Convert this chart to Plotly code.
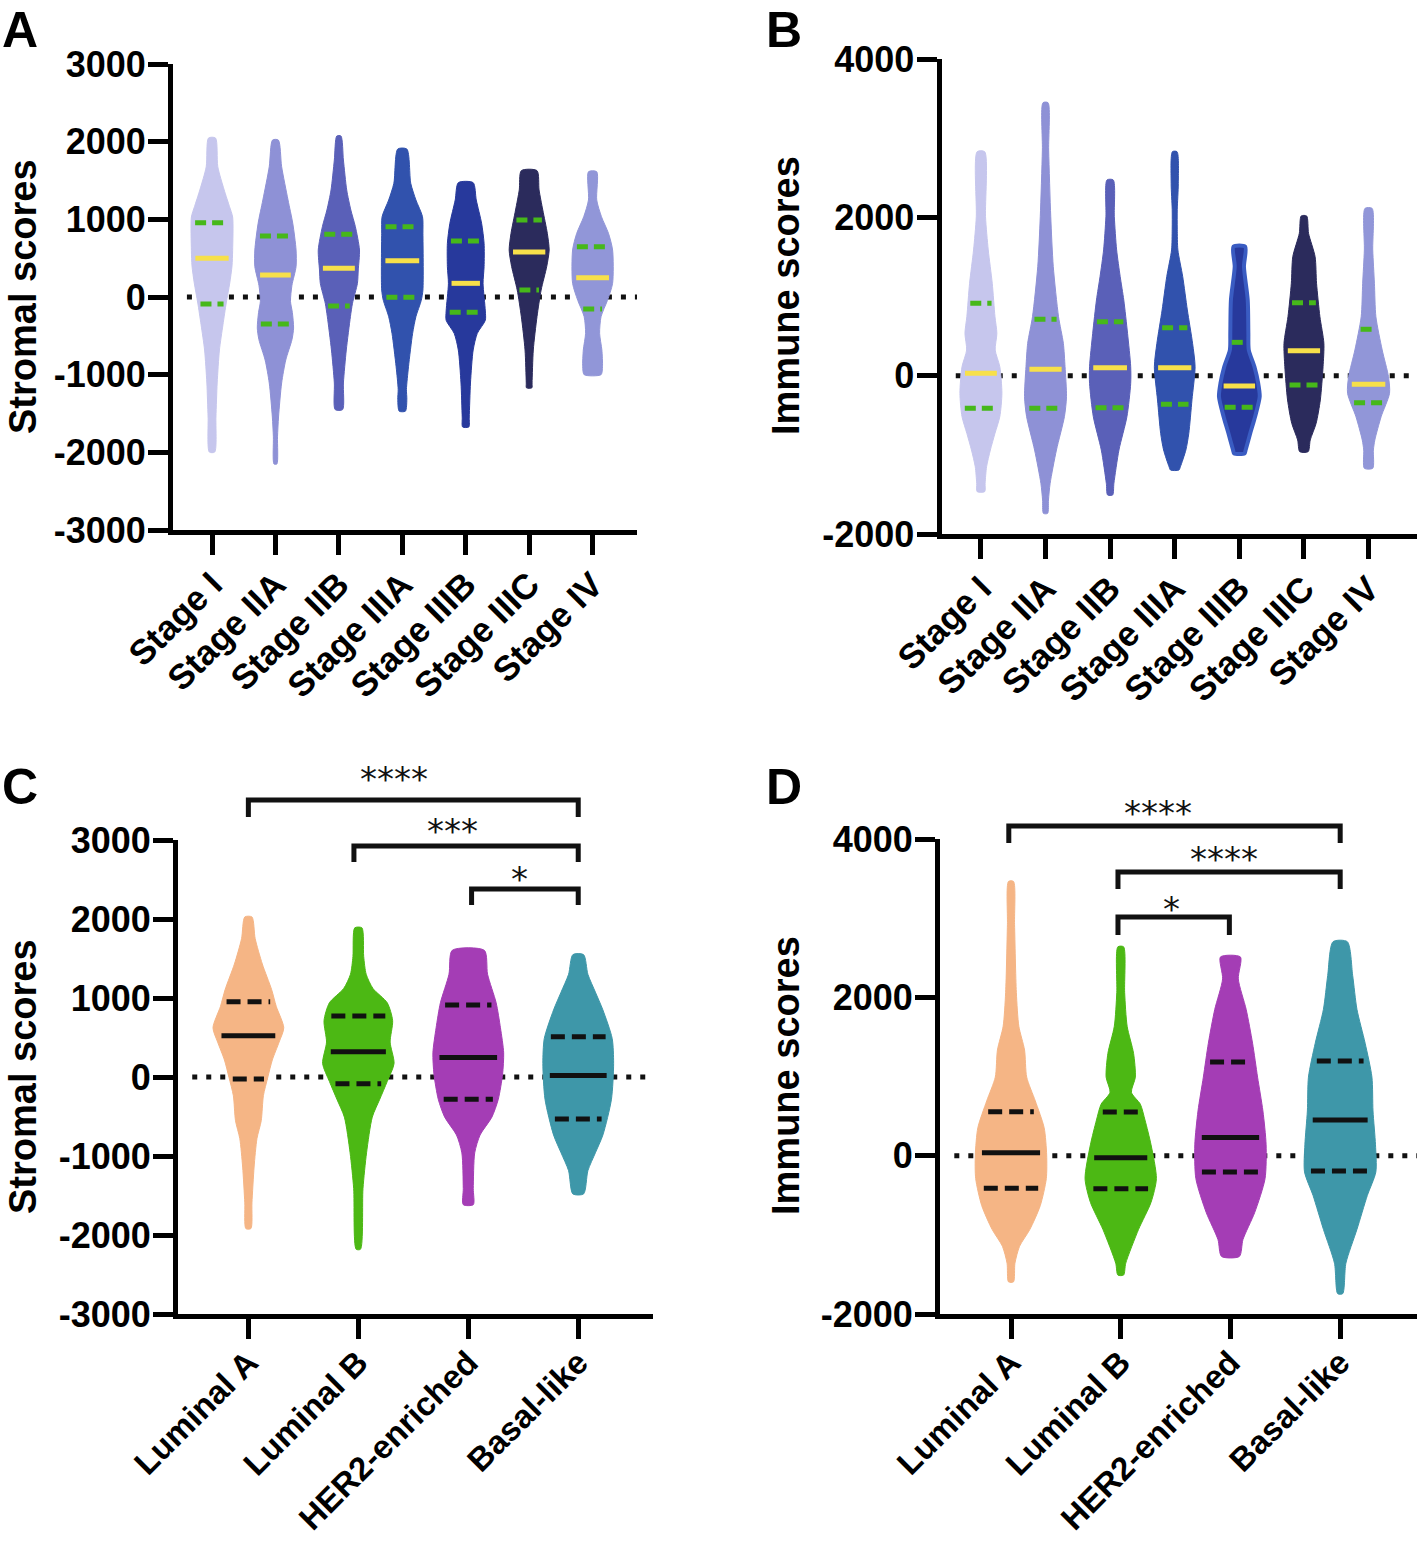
import numpy as np
import plotly.graph_objects as go

W, H = 1417, 1549
FONT = "Liberation Sans, Arial, sans-serif"

# ---------------- data ----------------
stages = ["Stage I", "Stage IIA", "Stage IIB", "Stage IIIA", "Stage IIIB", "Stage IIIC", "Stage IV"]
subtypes = ["Luminal A", "Luminal B", "HER2-enriched", "Basal-like"]

stage_colors = ["#c6c6ed", "#8e91d6", "#5a60b8", "#3152ad", "#27399c", "#2b2b5c", "#9196d8"]
subtype_colors = ["#f5b585", "#4cb814", "#a43db5", "#3e97a9"]

# Panel A - stromal scores by stage: levels (score) and relative violin width
A_levels = [
    [-1996, -1545, -1107, -682, -357, -77, 180, 400, 600, 1030, 1163, 1378, 1678, 2047],
    [-2150, -1800, -1545, -1107, -811, -550, -400, -200, -56, 150, 391, 605, 948, 1249, 1678, 2021],
    [-1450, -1107, -682, -253, -81, 176, 348, 605, 905, 1120, 1378, 1764, 2073],
    [-1470, -1320, -1190, -897, -468, -253, -43, 90, 820, 1034, 1249, 1463, 1905],
    [-1673, -1545, -1107, -682, -468, -300, -180, 176, 391, 691, 948, 1249, 1472],
    [-1170, -1107, -682, -253, 90, 391, 605, 820, 1120, 1378, 1627],
    [-1000, -897, -682, -468, -253, -43, 176, 605, 820, 1034, 1249, 1613],
]
A_dens = [
    [0.13, 0.19, 0.25, 0.36, 0.53, 0.69, 0.86, 0.97, 1.0, 1.0, 0.85, 0.59, 0.28, 0.17],
    [0.07, 0.10, 0.15, 0.30, 0.50, 0.80, 0.88, 0.82, 0.73, 0.80, 1.0, 1.0, 0.84, 0.61, 0.30, 0.14],
    [0.18, 0.22, 0.36, 0.56, 0.66, 0.90, 0.94, 1.0, 0.80, 0.58, 0.38, 0.22, 0.10],
    [0.15, 0.22, 0.20, 0.30, 0.50, 0.66, 0.92, 1.0, 1.0, 0.98, 0.66, 0.41, 0.22],
    [0.15, 0.17, 0.23, 0.36, 0.56, 0.95, 0.95, 0.84, 0.89, 0.89, 0.77, 0.51, 0.36],
    [0.13, 0.14, 0.20, 0.38, 0.58, 0.85, 0.97, 0.88, 0.66, 0.48, 0.38],
    [0.41, 0.48, 0.45, 0.34, 0.41, 0.72, 0.97, 0.97, 0.77, 0.43, 0.20, 0.20],
]
A_median = [498, 283, 369, 467, 176, 579, 249]
A_q1 = [-90, -348, -116, -4, -197, 90, -154]
A_q3 = [957, 785, 807, 905, 721, 991, 648]

# Panel B - immune scores by stage
B_levels = [
    [-1465, -1360, -1150, -939, -728, -518, -223, 113, 324, 534, 745, 1167, 1588, 2008, 2829],
    [-1739, -1570, -1360, -939, -518, -265, 113, 408, 745, 1377, 2008, 2850, 3448],
    [-1507, -1360, -939, -518, -98, 113, 534, 956, 1251, 1588, 2008, 2472],
    [-1192, -1150, -939, -728, -307, 113, 408, 830, 1251, 1588, 1850, 2100, 2429, 2829],
    [-981, -939, -728, -518, -265, -98, 113, 324, 534, 956, 1377, 1630],
    [-960, -812, -602, -307, 113, 408, 745, 1167, 1504, 1798, 2017],
    [-1170, -939, -812, -518, -223, -13, 324, 745, 1167, 1588, 2113],
]
B_dens = [
    [0.18, 0.20, 0.27, 0.45, 0.67, 0.90, 1.0, 0.90, 0.68, 0.76, 0.67, 0.54, 0.35, 0.22, 0.18],
    [0.10, 0.14, 0.22, 0.52, 0.90, 1.0, 0.93, 0.85, 0.62, 0.37, 0.25, 0.15, 0.12],
    [0.12, 0.18, 0.42, 0.80, 0.98, 0.98, 0.83, 0.65, 0.48, 0.31, 0.20, 0.15],
    [0.20, 0.27, 0.53, 0.67, 0.82, 0.97, 0.85, 0.60, 0.38, 0.15, 0.12, 0.12, 0.17, 0.11],
    [0.25, 0.30, 0.52, 0.75, 0.97, 0.90, 0.72, 0.45, 0.43, 0.40, 0.22, 0.28],
    [0.20, 0.30, 0.58, 0.78, 0.91, 0.95, 0.76, 0.60, 0.53, 0.22, 0.13],
    [0.20, 0.23, 0.30, 0.60, 1.0, 0.95, 0.65, 0.35, 0.28, 0.20, 0.17],
]
B_median = [30, 81, 101, 101, -130, 316, -109]
B_q1 = [-412, -412, -404, -362, -400, -117, -341]
B_q3 = [914, 712, 682, 606, 421, 922, 586]

# Panel C - stromal scores by PAM50 subtype
C_levels = [
    [-1919, -1593, -1140, -779, -553, -236, -10, 216, 442, 623, 894, 1107, 1430, 1752, 2026],
    [-2180, -1412, -960, -508, -281, -55, 171, 442, 713, 939, 1120, 1300, 1526, 1888],
    [-1616, -1412, -960, -734, -508, -281, 35, 306, 623, 939, 1300, 1603],
    [-1480, -1186, -960, -734, -281, 171, 487, 849, 1074, 1300, 1549],
]
C_dens = [
    [0.07, 0.10, 0.16, 0.24, 0.36, 0.42, 0.54, 0.67, 0.86, 0.99, 0.78, 0.65, 0.39, 0.19, 0.10],
    [0.06, 0.13, 0.23, 0.39, 0.60, 0.81, 1.0, 0.89, 0.96, 0.81, 0.41, 0.22, 0.15, 0.10],
    [0.14, 0.14, 0.18, 0.33, 0.66, 0.84, 0.96, 0.99, 0.90, 0.78, 0.54, 0.45],
    [0.15, 0.27, 0.48, 0.69, 0.93, 0.99, 0.95, 0.69, 0.48, 0.27, 0.15],
]
C_median = [523, 319, 247, 20]
C_q1 = [-24, -87, -282, -532]
C_q3 = [952, 772, 911, 509]

# Panel D - immune scores by PAM50 subtype
D_levels = [
    [-1594, -1359, -1145, -931, -632, -290, 9, 351, 693, 992, 1334, 1634, 2062, 2917, 3464],
    [-1508, -1359, -931, -589, -290, 137, 450, 650, 800, 992, 1292, 1634, 2062, 2638],
    [-1273, -1060, -717, -290, 137, 565, 992, 1420, 1848, 2233, 2510],
    [-1743, -1359, -931, -504, -205, 137, 565, 992, 1420, 1848, 2276, 2703],
]
D_dens = [
    [0.07, 0.11, 0.24, 0.53, 0.82, 0.99, 1.0, 0.93, 0.68, 0.44, 0.38, 0.22, 0.15, 0.10, 0.07],
    [0.08, 0.14, 0.50, 0.85, 1.0, 0.85, 0.68, 0.55, 0.30, 0.41, 0.36, 0.18, 0.11, 0.08],
    [0.25, 0.35, 0.68, 0.97, 1.0, 0.91, 0.76, 0.62, 0.44, 0.22, 0.28],
    [0.07, 0.16, 0.47, 0.76, 1.0, 0.99, 0.92, 0.89, 0.70, 0.47, 0.35, 0.20],
]
D_median = [38, -27, 230, 449]
D_q1 = [-411, -419, -206, -193]
D_q3 = [556, 552, 1184, 1196]

# significance brackets: (from group, to group, bar level, leg end level, label x, label level, label)
C_brackets = [(0, 3, 3507, 3292, 1.32, 3773, "****"),
              (0.96, 3, 2924, 2722, 1.86, 3114, "***"),
              (2.03, 3, 2380, 2178, 2.47, 2507, "*")]
D_brackets = [(-0.02, 3, 4165, 3950, 1.34, 4330, "****"),
              (0.975, 3, 3583, 3369, 1.94, 3748, "****"),
              (0.975, 1.99, 3014, 2787, 1.46, 3116, "*")]

stromal_ticks = [-3000, -2000, -1000, 0, 1000, 2000, 3000]
immune_ticks = [-2000, 0, 2000, 4000]

# ---------------- layout geometry (pixels) ----------------
def px_x(p):
    return p / W

def px_y(p):
    return 1 - p / H

panels = {
    "A": dict(ax="x", ay="y", xdom=(173, 637), ydom=(530, 64), xr=(-0.615, 6.70), yr=(-3000, 3000)),
    "B": dict(ax="x2", ay="y2", xdom=(941.5, 1417), ydom=(534, 59), xr=(-0.61, 6.75), yr=(-2000, 4000)),
    "C": dict(ax="x3", ay="y3", xdom=(178, 653), ydom=(1314, 840), xr=(-0.64, 3.68), yr=(-3000, 3000)),
    "D": dict(ax="x4", ay="y4", xdom=(940, 1417), ydom=(1314, 839), xr=(-0.647, 3.70), yr=(-2000, 4000)),
}
HALF_W = 0.325

fig = go.Figure()


def add_violins(pan, levels, dens, colors, med, q1, q3, med_color, q_color, q_dash, outlines=None):
    p = panels[pan]
    for i, (lv, dn) in enumerate(zip(levels, dens)):
        lv = np.asarray(lv, float)
        dn = np.asarray(dn, float) * HALF_W
        xs = np.concatenate([i + dn, (i - dn)[::-1], [i + dn[0]]])
        ys = np.concatenate([lv, lv[::-1], [lv[0]]])
        lc = colors[i] if outlines is None or outlines[i] is None else outlines[i]
        lw = 1 if outlines is None or outlines[i] is None else 4
        fig.add_trace(go.Scatter(x=xs, y=ys, mode="lines", fill="toself", fillcolor=colors[i],
                                 line=dict(color=lc, width=lw, shape="spline", smoothing=0.7),
                                 xaxis=p["ax"], yaxis=p["ay"], hoverinfo="skip", showlegend=False))
        for val, col, dash in [(q1[i], q_color, q_dash), (q3[i], q_color, q_dash), (med[i], med_color, "solid")]:
            w = np.interp(val, lv, dn) * 0.82
            fig.add_trace(go.Scatter(x=[i - w, i + w], y=[val, val], mode="lines",
                                     line=dict(color=col, width=5, dash=dash),
                                     xaxis=p["ax"], yaxis=p["ay"], hoverinfo="skip", showlegend=False))


add_violins("A", A_levels, A_dens, stage_colors, A_median, A_q1, A_q3, "#f7e04a", "#46b81a", "11px,6px")
add_violins("B", B_levels, B_dens, stage_colors, B_median, B_q1, B_q3, "#f7e04a", "#46b81a", "11px,6px",
            outlines=[None, None, None, None, "#3a5cc2", None, None])
add_violins("C", C_levels, C_dens, subtype_colors, C_median, C_q1, C_q3, "#111111", "#111111", "14px,7px")
add_violins("D", D_levels, D_dens, subtype_colors, D_median, D_q1, D_q3, "#111111", "#111111", "14px,7px")

layout = dict(width=W, height=H, margin=dict(l=0, r=0, t=0, b=0, autoexpand=False),
              template="none",
              paper_bgcolor="white", plot_bgcolor="white", showlegend=False)

ytickfont = dict(family=FONT, size=36, color="black", weight="bold")
shapes = []
annotations = []

for name, p in panels.items():
    xk = "xaxis" + p["ax"][1:]
    yk = "yaxis" + p["ay"][1:]
    cats = stages if name in "AB" else subtypes
    yt = stromal_ticks if name in "AC" else immune_ticks
    xtickfont = dict(family=FONT, size=35 if name in "AB" else 33, color="black", weight="bold")
    common = dict(showline=True, linecolor="black", linewidth=5, ticks="outside", ticklen=20,
                  tickwidth=5, tickcolor="black", showgrid=False, zeroline=False,
                  fixedrange=True, automargin=False)
    layout[xk] = dict(common, domain=[px_x(p["xdom"][0]), px_x(p["xdom"][1])], anchor=p["ay"],
                      range=list(p["xr"]), tickvals=list(range(len(cats))), ticktext=cats, tickangle=-45,
                      tickfont=xtickfont, ticklabelstandoff=-5 if name in "AB" else -9)
    layout[yk] = dict(common, domain=[px_y(p["ydom"][0]), px_y(p["ydom"][1])], anchor=p["ax"],
                      range=list(p["yr"]), tickvals=yt, ticktext=[str(v) for v in yt],
                      tickfont=ytickfont, ticklabelstandoff=-5)
    # dotted zero reference line
    shapes.append(dict(type="line", xref=p["ax"] + " domain", yref=p["ay"], x0=0.03, x1=1, y0=0, y1=0,
                       line=dict(color="#111111", width=5, dash="5px,9px"), layer="below"))

# significance brackets
for name, brs in [("C", C_brackets), ("D", D_brackets)]:
    p = panels[name]
    lo, hi = p["yr"]
    f = lambda v: (v - lo) / (hi - lo)
    for (x0, x1, yb, yl, tx, ty, lab) in brs:
        shapes.append(dict(type="path", xref=p["ax"], yref=p["ay"] + " domain",
                           path=f"M {x0},{f(yl)} L {x0},{f(yb)} L {x1},{f(yb)} L {x1},{f(yl)}",
                           line=dict(color="#111111", width=5)))
        annotations.append(dict(text=lab, xref=p["ax"], yref=p["ay"] + " domain", x=tx, y=f(ty),
                                showarrow=False, xanchor="center", yanchor="middle",
                                font=dict(family="DejaVu Sans", size=34, color="#111111")))

# axis titles
for text, cx, cy in [("Stromal scores", 23, 297), ("Immune scores", 786, 296),
                     ("Stromal scores", 23, 1077), ("Immune scores", 786, 1076)]:
    annotations.append(dict(text=text, xref="paper", yref="paper", x=px_x(cx), y=px_y(cy),
                            showarrow=False, textangle=-90, xanchor="center", yanchor="middle",
                            font=dict(family=FONT, size=38, color="black", weight="bold")))

# panel letters
for text, lx, ty in [("A", 0, 0), ("B", 764, 0), ("C", 0, 757), ("D", 764, 757)]:
    annotations.append(dict(text=text, xref="paper", yref="paper", x=px_x(lx), y=px_y(ty),
                            showarrow=False, xanchor="left", yanchor="top",
                            font=dict(family=FONT, size=50, color="black", weight="bold")))

layout["shapes"] = shapes
layout["annotations"] = annotations
fig.update_layout(**layout)
fig.write_html("out.html", config={"displayModeBar": False},
               post_script="document.body.style.margin='0px';document.body.style.overflow='hidden';")
